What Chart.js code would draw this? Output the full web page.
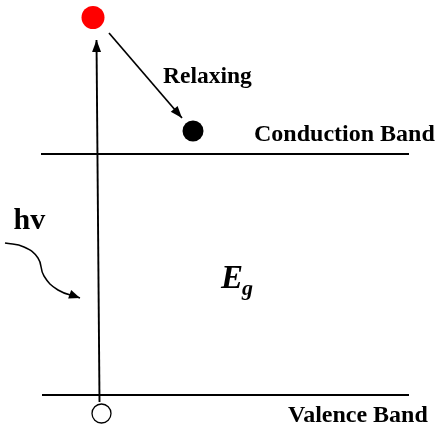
<!DOCTYPE html>
<html><head><meta charset="utf-8">
<script src="https://cdn.jsdelivr.net/npm/chart.js@4"></script>
<style>html,body{margin:0;padding:0;background:#fff}#wrap{width:435px;height:437px;position:relative}</style>
</head><body><div id="wrap"><canvas id="c"></canvas></div>
<script>
// Diagram coordinates (x to the right, y downward)
const conductionBand = [{x:41,y:154},{x:409,y:154}];
const valenceBand = [{x:42,y:395},{x:409,y:395}];
const excitationArrow = [{x:99.5,y:402},{x:96.5,y:40}];
const relaxArrow = [{x:109,y:33},{x:182,y:118}];
const photonCurve = [{x:5,y:243},{x:24,y:247},{x:38,y:258},{x:44,y:276},{x:58,y:290},{x:80,y:298}];
const hotElectron = [{x:93,y:17.5}];
const relaxedElectron = [{x:193,y:131}];
const hole = [{x:101.5,y:413.5}];
const labels = [
  {text:'Relaxing', x:163, y:82.5, size:23.5},
  {text:'Conduction Band', x:254, y:140.5, size:24},
  {text:'Valence Band', x:288, y:421.5, size:24},
  {text:'hv', x:13.5, y:229, size:30}
];
const gapLabel = {main:'E', sub:'g', x:221, y:287.5};

const arrowPlugin = {
  id:'arrows',
  afterDatasetsDraw(chart){
    const ctx = chart.ctx;
    chart.data.datasets.forEach((ds,i)=>{
      if(!ds.arrow) return;
      const pts = chart.getDatasetMeta(i).data;
      const p = pts[pts.length-1];
      let q = pts[pts.length-2];
      let fx = q.x, fy = q.y;
      if (p.cp1x !== undefined && ds.tension) { fx = p.cp1x; fy = p.cp1y; }
      const a = Math.atan2(p.y-fy, p.x-fx);
      const L = ds.arrowLen, W = ds.arrowWidth;
      ctx.save();
      ctx.fillStyle = ds.borderColor;
      ctx.translate(p.x,p.y); ctx.rotate(a);
      ctx.beginPath(); ctx.moveTo(0,0); ctx.lineTo(-L,W/2); ctx.lineTo(-L,-W/2); ctx.closePath(); ctx.fill();
      ctx.restore();
    });
  }
};
const FONT = '"Liberation Serif","Times New Roman",serif';
const textPlugin = {
  id:'texts',
  afterDraw(chart){
    const ctx = chart.ctx, xs = chart.scales.x, ys = chart.scales.y;
    ctx.save(); ctx.fillStyle='#000'; ctx.textBaseline='alphabetic'; ctx.textAlign='left';
    labels.forEach(l=>{
      ctx.font = 'bold '+l.size+'px '+FONT;
      ctx.fillText(l.text, xs.getPixelForValue(l.x), ys.getPixelForValue(l.y));
    });
    const gx = xs.getPixelForValue(gapLabel.x), gy = ys.getPixelForValue(gapLabel.y);
    ctx.font = 'italic bold 33px '+FONT;
    ctx.fillText(gapLabel.main, gx, gy);
    const w = ctx.measureText(gapLabel.main).width;
    ctx.font = 'italic bold 22px '+FONT;
    ctx.fillText(gapLabel.sub, gx+w-1, gy+7);
    ctx.restore();
  }
};
const line = (data, extra) => Object.assign({type:'line', data, borderColor:'#000', borderWidth:1.9, pointRadius:0, fill:false, clip:false, tension:0}, extra||{});
const dot = (data, fill, r, bw) => ({type:'scatter', data, backgroundColor:fill, borderColor:'#000', borderWidth:bw, pointRadius:r, pointHoverRadius:r, clip:false});
new Chart(document.getElementById('c'), {
  data:{datasets:[
    line(conductionBand),
    line(valenceBand),
    line(excitationArrow, {arrow:true, arrowLen:12, arrowWidth:9}),
    line(relaxArrow, {arrow:true, arrowLen:12, arrowWidth:9, borderWidth:1.7}),
    line(photonCurve, {arrow:true, arrowLen:11, arrowWidth:9, borderWidth:1.5, tension:0.45}),
    dot(hotElectron, '#ff0000', 11.5, 0),
    dot(relaxedElectron, '#000', 10.5, 0),
    dot(hole, '#fff', 9.5, 1.3)
  ]},
  options:{
    responsive:true, maintainAspectRatio:false, animation:false,
    layout:{padding:0, autoPadding:false},
    plugins:{legend:{display:false}, tooltip:{enabled:false}},
    events:[],
    scales:{
      x:{type:'linear', min:0, max:435, display:false},
      y:{type:'linear', min:0, max:437, reverse:true, display:false}
    }
  },
  plugins:[arrowPlugin, textPlugin]
});
</script></body></html>
